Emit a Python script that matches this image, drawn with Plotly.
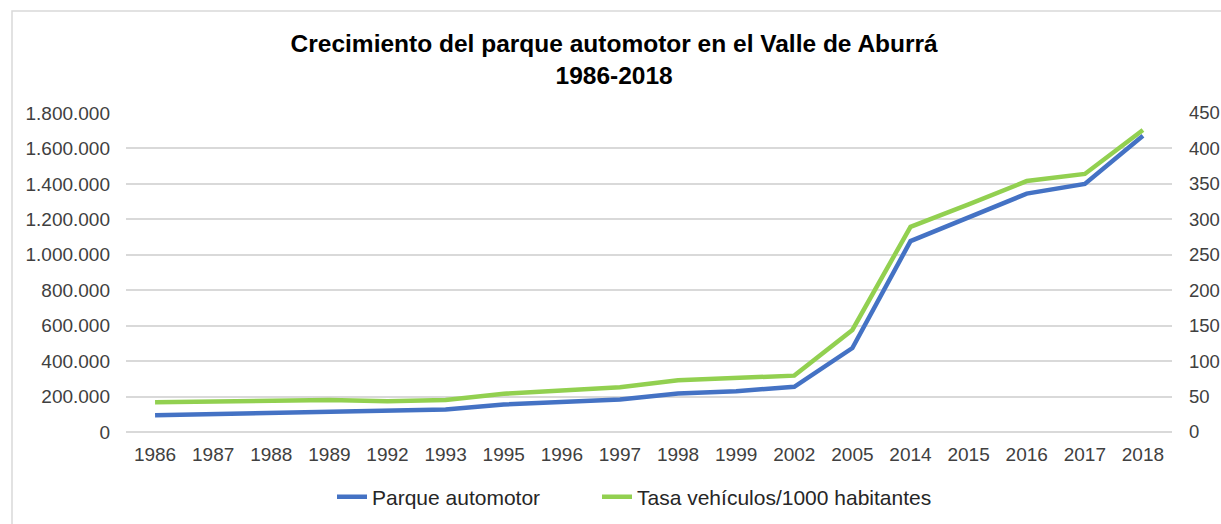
import plotly.graph_objects as go

# Datos
anios = ["1986", "1987", "1988", "1989", "1992", "1993", "1995", "1996", "1997",
         "1998", "1999", "2002", "2005", "2014", "2015", "2016", "2017", "2018"]
parque_automotor = [95000, 102000, 108000, 113000, 119000, 127000, 155000, 170000, 183000,
                    217000, 230000, 255000, 474000, 1077000, 1212000, 1345000, 1400000, 1672000]
tasa_vehiculos = [42, 43.5, 45, 45, 43.5, 45, 54, 59, 63,
                  73, 76, 79.5, 144, 289.5, 321, 354, 364, 426]

azul = "#4472C4"
verde = "#92D050"
gris = "#D9D9D9"
fuente = "Liberation Sans, Arial, sans-serif"

fig = go.Figure()
fig.add_trace(go.Scatter(x=anios, y=parque_automotor, name="Parque automotor",
                         mode="lines", line=dict(color=azul, width=4.5), legend="legend"))
fig.add_trace(go.Scatter(x=anios, y=tasa_vehiculos, name="Tasa vehículos/1000 habitantes",
                         mode="lines", line=dict(color=verde, width=4.5), yaxis="y2",
                         legend="legend2"))

leyenda = dict(orientation="h", xref="container", yref="container", xanchor="left",
               y=1 - 497 / 524, yanchor="middle",
               font=dict(size=21, color="#262626"), bgcolor="rgba(0,0,0,0)")

fig.update_layout(
    width=1221, height=524,
    margin=dict(l=126, r=49, t=113, b=92, autoexpand=False),
    paper_bgcolor="white", plot_bgcolor="white",
    separators=",.",
    font=dict(family=fuente, size=19, color="#404040"),
    title=dict(text="<b>Crecimiento del parque automotor en el Valle de Aburrá<br>1986-2018</b>",
               x=0.503, xanchor="center", y=1 - 52 / 524, yanchor="middle",
               font=dict(family=fuente, size=24.5, color="black")),
    xaxis=dict(type="category", range=[-0.5, 17.5], showgrid=False, showline=False,
               automargin=False, ticks="", tickfont=dict(size=19, color="#404040"),
               ticklabelstandoff=9),
    yaxis=dict(range=[0, 1800000], dtick=200000, tickformat=",d", showgrid=True,
               gridcolor=gris, gridwidth=1.5, zeroline=True, zerolinecolor=gris,
               zerolinewidth=1.5, ticks="", ticklabelstandoff=15, automargin=False,
               tickfont=dict(size=19, color="#404040")),
    yaxis2=dict(range=[0, 450], dtick=50, overlaying="y", side="right", showgrid=False,
                zeroline=False, ticks="", ticklabelstandoff=16, automargin=False,
                tickfont=dict(size=18.5, color="#404040")),
    legend=dict(leyenda, x=332 / 1221),
    legend2=dict(leyenda, x=597 / 1221),
    shapes=[dict(type="rect", xref="paper", yref="paper",
                 x0=(12 - 126) / 1046, x1=1.2, y0=-0.5, y1=(431.7 - 11) / 318.7,
                 line=dict(color=gris, width=1.5), layer="below")],
    showlegend=True,
)

fig.write_html("out.html", config={"displayModeBar": False},
               post_script="document.body.style.margin='0';document.body.style.overflow='hidden';")
